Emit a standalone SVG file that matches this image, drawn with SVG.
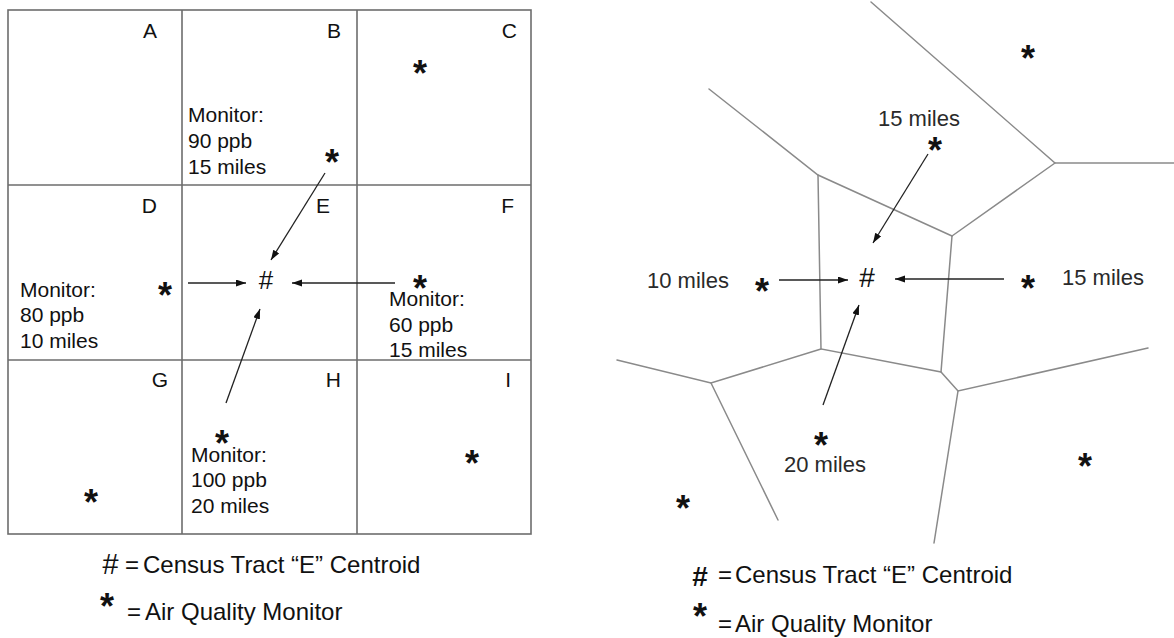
<svg xmlns="http://www.w3.org/2000/svg" width="1174" height="638" viewBox="0 0 1174 638">
<defs>
<marker id="ah" markerUnits="userSpaceOnUse" markerWidth="11" markerHeight="8" refX="10" refY="3.5" orient="auto">
<path d="M0,0 L10,3.5 L0,7 z" fill="#111"/>
</marker>
<style>
.grid{fill:none;stroke:#6d6d6d;stroke-width:1.6}
.vor{fill:none;stroke:#8a8a8a;stroke-width:1.5;stroke-linecap:round}
.arr{fill:none;stroke:#222;stroke-width:1.3;marker-end:url(#ah)}
.t{font-family:"Liberation Sans",Arial,sans-serif;font-size:21px;fill:#111}
.lt{font-family:"Liberation Sans",Arial,sans-serif;font-size:21px;fill:#111;text-anchor:end}
.rt{font-family:"Liberation Sans",Arial,sans-serif;font-size:22px;fill:#2a2a2a}
.lg{font-family:"Liberation Sans",Arial,sans-serif;font-size:24px;fill:#111}
.st{font-family:"Liberation Sans",Arial,sans-serif;font-size:36px;font-weight:bold;fill:#111;text-anchor:middle}
.hs{font-family:"Liberation Sans",Arial,sans-serif;fill:#111;text-anchor:middle}
</style>
</defs>
<rect width="1174" height="638" fill="#fff"/>

<g id="left-grid">
<rect class="grid" x="8" y="10" width="523" height="524"/>
<line class="grid" x1="182" y1="10" x2="182" y2="534"/>
<line class="grid" x1="357" y1="10" x2="357" y2="534"/>
<line class="grid" x1="8" y1="185" x2="531" y2="185"/>
<line class="grid" x1="8" y1="360" x2="531" y2="360"/>
</g>

<g id="tract-A"><text class="lt" x="157" y="38">A</text></g>
<g id="tract-B">
<text class="lt" x="341" y="38">B</text>
<text class="t" x="188" y="122">Monitor:</text>
<text class="t" x="188" y="148">90 ppb</text>
<text class="t" x="188" y="174">15 miles</text>
<text class="st" x="332" y="175">*</text>
</g>
<g id="tract-C"><text class="lt" x="517" y="38">C</text><text class="st" x="420" y="86">*</text></g>
<g id="tract-D">
<text class="lt" x="157" y="213">D</text>
<text class="t" x="20" y="297">Monitor:</text>
<text class="t" x="20" y="322">80 ppb</text>
<text class="t" x="20" y="348">10 miles</text>
<text class="st" x="165" y="308">*</text>
</g>
<g id="tract-E">
<text class="lt" x="330" y="213">E</text>
<text class="hs" x="266" y="289" font-size="26">#</text>
</g>
<g id="tract-F">
<text class="lt" x="514" y="213">F</text>
<text class="st" x="420" y="301">*</text>
<text class="t" x="389" y="306">Monitor:</text>
<text class="t" x="389" y="332">60 ppb</text>
<text class="t" x="389" y="357">15 miles</text>
</g>
<g id="tract-G"><text class="lt" x="168" y="387">G</text><text class="st" x="91" y="515">*</text></g>
<g id="tract-H">
<text class="lt" x="341" y="387">H</text>
<text class="st" x="222" y="456">*</text>
<text class="t" x="191" y="462">Monitor:</text>
<text class="t" x="191" y="487">100 ppb</text>
<text class="t" x="191" y="513">20 miles</text>
</g>
<g id="tract-I"><text class="lt" x="511" y="387">I</text><text class="st" x="472" y="476">*</text></g>

<g id="left-legend">
<text class="hs" x="110" y="574" font-size="29" font-style="italic">#</text>
<text class="lg" x="125" y="573">=</text>
<text class="lg" x="143" y="573">Census Tract “E” Centroid</text>
<text class="st" x="107" y="619">*</text>
<text class="lg" x="127" y="620">=</text>
<text class="lg" x="145" y="620">Air Quality Monitor</text>
</g>

<g id="voronoi">
<polyline class="vor" points="871,2 1055,163 1174,163"/>
<line class="vor" x1="1055" y1="163" x2="952" y2="236"/>
<polyline class="vor" points="709,89 818,175 952,236"/>
<polyline class="vor" points="818,175 821,349 941,372 958,391 1148,348"/>
<line class="vor" x1="952" y1="236" x2="941" y2="372"/>
<line class="vor" x1="958" y1="391" x2="934" y2="543"/>
<polyline class="vor" points="617,360 711,383 821,349"/>
<line class="vor" x1="711" y1="383" x2="778" y2="520"/>
</g>

<g id="connectors">
<line class="arr" x1="325" y1="173" x2="271" y2="260"/>
<line class="arr" x1="188" y1="283" x2="246" y2="283"/>
<line class="arr" x1="395" y1="283" x2="292" y2="283"/>
<line class="arr" x1="226" y1="403" x2="260" y2="309"/>
<line class="arr" x1="928" y1="154" x2="873" y2="243"/>
<line class="arr" x1="779" y1="280" x2="848" y2="280"/>
<line class="arr" x1="1004" y1="279" x2="895" y2="279"/>
<line class="arr" x1="823" y1="405" x2="859" y2="305"/>
</g>

<g id="centroid-E"><text class="hs" x="867" y="287" font-size="28">#</text></g>
<g id="monitor-NE"><text class="st" x="1028" y="71">*</text></g>
<g id="monitor-N"><text class="rt" x="878" y="126">15 miles</text><text class="st" x="935" y="163">*</text></g>
<g id="monitor-W"><text class="rt" x="647" y="288">10 miles</text><text class="st" x="762" y="304">*</text></g>
<g id="monitor-E"><text class="st" x="1028" y="301">*</text><text class="rt" x="1062" y="285">15 miles</text></g>
<g id="monitor-S"><text class="st" x="821" y="458">*</text><text class="rt" x="784" y="472">20 miles</text></g>
<g id="monitor-SW"><text class="st" x="683" y="521">*</text></g>
<g id="monitor-SE"><text class="st" x="1085" y="479">*</text></g>

<g id="right-legend">
<text class="hs" x="700" y="586" font-size="28" font-weight="bold">#</text>
<text class="lg" x="718" y="583">=</text>
<text class="lg" x="735" y="583">Census Tract “E” Centroid</text>
<text class="st" x="700" y="629">*</text>
<text class="lg" x="718" y="632">=</text>
<text class="lg" x="735" y="632">Air Quality Monitor</text>
</g>
</svg>
